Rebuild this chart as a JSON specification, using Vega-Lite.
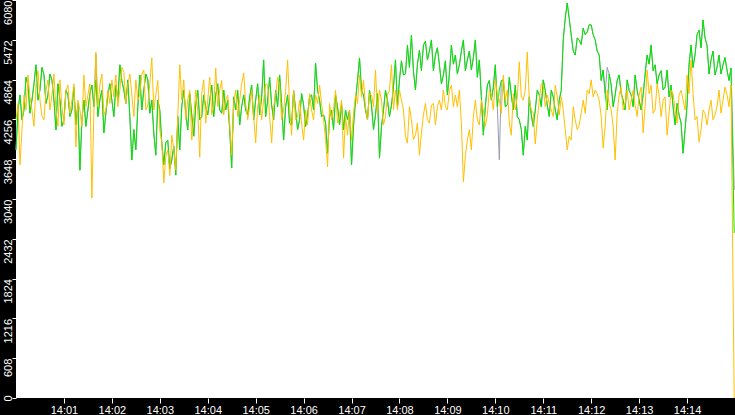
{
  "$schema": "https://vega.github.io/schema/vega-lite/v6.json",
  "width": 719,
  "height": 398,
  "autosize": "none",
  "padding": {"left": 16, "top": 0, "right": 0, "bottom": 17},
  "background": "#000000",
  "config": {
    "view": {"fill": "#ffffff", "stroke": null},
    "axis": {
      "domain": false,
      "grid": false,
      "tickColor": "#ffffff",
      "labelColor": "#ffffff",
      "labelFont": "Liberation Sans",
      "labelFontSize": 11,
      "labelOverlap": false,
      "labelFlush": false,
      "labelBound": false,
      "title": null
    }
  },
  "data": {
    "values": [
      {"s": 0, "g": 3790, "o": 4250, "p": 3790},
      {"s": 5, "g": 4630, "o": 3560, "p": 4630},
      {"s": 10, "g": 4400, "o": 4630, "p": 4400},
      {"s": 15, "g": 4780, "o": 4935, "p": 4780},
      {"s": 20, "g": 4550, "o": 4400, "p": 4550},
      {"s": 25, "g": 5090, "o": 4780, "p": 5090},
      {"s": 30, "g": 4705, "o": 4550, "p": 4705},
      {"s": 35, "g": 4935, "o": 4250, "p": 4935},
      {"s": 40, "g": 4630, "o": 4860, "p": 4630},
      {"s": 45, "g": 4860, "o": 4630, "p": 4860},
      {"s": 50, "g": 4095, "o": 4400, "p": 4095},
      {"s": 55, "g": 4550, "o": 4860, "p": 4550},
      {"s": 60, "g": 4250, "o": 4170, "p": 4250},
      {"s": 65, "g": 4630, "o": 4780, "p": 4630},
      {"s": 70, "g": 4400, "o": 4550, "p": 4400},
      {"s": 75, "g": 4170, "o": 3835, "p": 4170},
      {"s": 80, "g": 3480, "o": 4400, "p": 3480},
      {"s": 85, "g": 4550, "o": 4935, "p": 4550},
      {"s": 90, "g": 4400, "o": 4630, "p": 4400},
      {"s": 95, "g": 4780, "o": 3055, "p": 4780},
      {"s": 100, "g": 4860, "o": 5285, "p": 5250},
      {"s": 105, "g": 4550, "o": 4780, "p": 4550},
      {"s": 110, "g": 4050, "o": 4325, "p": 4050},
      {"s": 115, "g": 4630, "o": 4705, "p": 4630},
      {"s": 120, "g": 4550, "o": 4860, "p": 4550},
      {"s": 125, "g": 4780, "o": 4935, "p": 4780},
      {"s": 130, "g": 5090, "o": 4705, "p": 5090},
      {"s": 135, "g": 4705, "o": 4980, "p": 4705},
      {"s": 140, "g": 4860, "o": 4780, "p": 4860},
      {"s": 145, "g": 3635, "o": 4630, "p": 3635},
      {"s": 150, "g": 3790, "o": 4860, "p": 3790},
      {"s": 155, "g": 4935, "o": 4630, "p": 4935},
      {"s": 160, "g": 4705, "o": 5010, "p": 4705},
      {"s": 165, "g": 4860, "o": 4475, "p": 4860},
      {"s": 170, "g": 4550, "o": 5195, "p": 4550},
      {"s": 175, "g": 3710, "o": 4630, "p": 3710},
      {"s": 180, "g": 4400, "o": 4095, "p": 4400},
      {"s": 185, "g": 3560, "o": 3285, "p": 3560},
      {"s": 190, "g": 3940, "o": 3790, "p": 3940},
      {"s": 195, "g": 3635, "o": 4015, "p": 3635},
      {"s": 200, "g": 3405, "o": 3480, "p": 3405},
      {"s": 205, "g": 3790, "o": 5090, "p": 3790},
      {"s": 210, "g": 4705, "o": 4860, "p": 4705},
      {"s": 215, "g": 4095, "o": 4550, "p": 4095},
      {"s": 220, "g": 4325, "o": 3940, "p": 4325},
      {"s": 225, "g": 4475, "o": 4705, "p": 4475},
      {"s": 230, "g": 4250, "o": 3680, "p": 4250},
      {"s": 235, "g": 4630, "o": 4860, "p": 4630},
      {"s": 240, "g": 4325, "o": 4550, "p": 4325},
      {"s": 245, "g": 4780, "o": 4325, "p": 4780},
      {"s": 250, "g": 4630, "o": 5040, "p": 4630},
      {"s": 255, "g": 4400, "o": 4705, "p": 4400},
      {"s": 260, "g": 4705, "o": 4325, "p": 4705},
      {"s": 265, "g": 4550, "o": 4630, "p": 4550},
      {"s": 270, "g": 3515, "o": 3710, "p": 3515},
      {"s": 275, "g": 4400, "o": 4705, "p": 4400},
      {"s": 280, "g": 4170, "o": 4550, "p": 4170},
      {"s": 285, "g": 4630, "o": 4965, "p": 4630},
      {"s": 290, "g": 4325, "o": 4250, "p": 4325},
      {"s": 295, "g": 4780, "o": 4705, "p": 4780},
      {"s": 300, "g": 4550, "o": 3895, "p": 4550},
      {"s": 305, "g": 4325, "o": 4630, "p": 4325},
      {"s": 310, "g": 5165, "o": 4550, "p": 5165},
      {"s": 315, "g": 4550, "o": 4780, "p": 4550},
      {"s": 320, "g": 4475, "o": 3895, "p": 4475},
      {"s": 325, "g": 4705, "o": 4630, "p": 4705},
      {"s": 330, "g": 4935, "o": 4780, "p": 4935},
      {"s": 335, "g": 3940, "o": 4400, "p": 3940},
      {"s": 340, "g": 4630, "o": 5165, "p": 4630},
      {"s": 345, "g": 4170, "o": 4015, "p": 4170},
      {"s": 350, "g": 4400, "o": 4250, "p": 4400},
      {"s": 355, "g": 4250, "o": 4550, "p": 4250},
      {"s": 360, "g": 4475, "o": 3940, "p": 4475},
      {"s": 365, "g": 4325, "o": 4170, "p": 4325},
      {"s": 370, "g": 4630, "o": 4400, "p": 4630},
      {"s": 375, "g": 5115, "o": 4630, "p": 5115},
      {"s": 380, "g": 4550, "o": 4780, "p": 4550},
      {"s": 385, "g": 4325, "o": 4250, "p": 4325},
      {"s": 390, "g": 3740, "o": 3530, "p": 3740},
      {"s": 395, "g": 4400, "o": 4250, "p": 4400},
      {"s": 400, "g": 4630, "o": 4705, "p": 4630},
      {"s": 405, "g": 4170, "o": 4325, "p": 4170},
      {"s": 410, "g": 4095, "o": 3665, "p": 4095},
      {"s": 415, "g": 4250, "o": 4015, "p": 4250},
      {"s": 420, "g": 3560, "o": 3940, "p": 3560},
      {"s": 425, "g": 4550, "o": 4630, "p": 4550},
      {"s": 430, "g": 5195, "o": 4935, "p": 5195},
      {"s": 435, "g": 4630, "o": 4860, "p": 4630},
      {"s": 440, "g": 4250, "o": 4250, "p": 4250},
      {"s": 445, "g": 4475, "o": 4630, "p": 4475},
      {"s": 450, "g": 4325, "o": 5010, "p": 4325},
      {"s": 455, "g": 3665, "o": 4705, "p": 3665},
      {"s": 460, "g": 4400, "o": 4170, "p": 4400},
      {"s": 465, "g": 4550, "o": 4630, "p": 4550},
      {"s": 470, "g": 4475, "o": 5090, "p": 4475},
      {"s": 475, "g": 5165, "o": 4705, "p": 5165},
      {"s": 480, "g": 4860, "o": 4705, "p": 4860},
      {"s": 485, "g": 4935, "o": 4400, "p": 4935},
      {"s": 490, "g": 5390, "o": 3895, "p": 5390},
      {"s": 495, "g": 5545, "o": 4250, "p": 5545},
      {"s": 500, "g": 4705, "o": 4015, "p": 4705},
      {"s": 505, "g": 5315, "o": 3710, "p": 5315},
      {"s": 510, "g": 5390, "o": 4325, "p": 5390},
      {"s": 515, "g": 5165, "o": 4250, "p": 5165},
      {"s": 520, "g": 5470, "o": 4475, "p": 5470},
      {"s": 525, "g": 5240, "o": 4170, "p": 5240},
      {"s": 530, "g": 5090, "o": 4550, "p": 5090},
      {"s": 535, "g": 4935, "o": 4705, "p": 4935},
      {"s": 540, "g": 4630, "o": 4400, "p": 4630},
      {"s": 545, "g": 5390, "o": 4780, "p": 5390},
      {"s": 550, "g": 5240, "o": 4630, "p": 5240},
      {"s": 555, "g": 5090, "o": 4705, "p": 5090},
      {"s": 560, "g": 5470, "o": 3300, "p": 5470},
      {"s": 565, "g": 5165, "o": 3940, "p": 5165},
      {"s": 570, "g": 5010, "o": 3790, "p": 5010},
      {"s": 575, "g": 5470, "o": 4550, "p": 5470},
      {"s": 580, "g": 5165, "o": 4170, "p": 5165},
      {"s": 585, "g": 4015, "o": 4400, "p": 4015},
      {"s": 590, "g": 4780, "o": 4325, "p": 4780},
      {"s": 595, "g": 4550, "o": 4630, "p": 4550},
      {"s": 600, "g": 5090, "o": 4860, "p": 5090},
      {"s": 605, "g": 4705, "o": 4550, "p": 3640},
      {"s": 610, "g": 4860, "o": 4935, "p": 4860},
      {"s": 615, "g": 4475, "o": 4705, "p": 4475},
      {"s": 620, "g": 4630, "o": 4015, "p": 4630},
      {"s": 625, "g": 4780, "o": 4400, "p": 4780},
      {"s": 630, "g": 4250, "o": 5135, "p": 4250},
      {"s": 635, "g": 3710, "o": 4550, "p": 3710},
      {"s": 640, "g": 3940, "o": 5285, "p": 3940},
      {"s": 645, "g": 4325, "o": 4400, "p": 4325},
      {"s": 650, "g": 4400, "o": 3880, "p": 4400},
      {"s": 655, "g": 4630, "o": 4550, "p": 4630},
      {"s": 660, "g": 4860, "o": 4780, "p": 4860},
      {"s": 665, "g": 4475, "o": 4630, "p": 4475},
      {"s": 670, "g": 4705, "o": 4400, "p": 4705},
      {"s": 675, "g": 4400, "o": 4780, "p": 4400},
      {"s": 680, "g": 4550, "o": 4325, "p": 4550},
      {"s": 685, "g": 5470, "o": 4400, "p": 5470},
      {"s": 690, "g": 6035, "o": 3790, "p": 6035},
      {"s": 695, "g": 5545, "o": 3940, "p": 5545},
      {"s": 700, "g": 5240, "o": 4250, "p": 5240},
      {"s": 705, "g": 5470, "o": 4170, "p": 5470},
      {"s": 710, "g": 5650, "o": 4550, "p": 5650},
      {"s": 715, "g": 5590, "o": 4705, "p": 5590},
      {"s": 720, "g": 5700, "o": 4860, "p": 5700},
      {"s": 725, "g": 5470, "o": 4705, "p": 5470},
      {"s": 730, "g": 5240, "o": 4550, "p": 5240},
      {"s": 735, "g": 5010, "o": 3820, "p": 5010},
      {"s": 740, "g": 4400, "o": 4705, "p": 5050},
      {"s": 745, "g": 4780, "o": 4400, "p": 4780},
      {"s": 750, "g": 4630, "o": 3635, "p": 4630},
      {"s": 755, "g": 4935, "o": 4630, "p": 4935},
      {"s": 760, "g": 4550, "o": 4400, "p": 4550},
      {"s": 765, "g": 4860, "o": 4705, "p": 4860},
      {"s": 770, "g": 4630, "o": 4550, "p": 4630},
      {"s": 775, "g": 4935, "o": 4475, "p": 4935},
      {"s": 780, "g": 4550, "o": 4630, "p": 4550},
      {"s": 785, "g": 4630, "o": 4050, "p": 4630},
      {"s": 790, "g": 5240, "o": 5010, "p": 5240},
      {"s": 795, "g": 5390, "o": 4780, "p": 5390},
      {"s": 800, "g": 5090, "o": 4400, "p": 5090},
      {"s": 805, "g": 4935, "o": 4630, "p": 4935},
      {"s": 810, "g": 4705, "o": 4550, "p": 4705},
      {"s": 815, "g": 5010, "o": 4015, "p": 5010},
      {"s": 820, "g": 4780, "o": 4705, "p": 4780},
      {"s": 825, "g": 4170, "o": 4400, "p": 4170},
      {"s": 830, "g": 4325, "o": 4630, "p": 4325},
      {"s": 835, "g": 3740, "o": 4550, "p": 3740},
      {"s": 840, "g": 4475, "o": 4935, "p": 4475},
      {"s": 845, "g": 5390, "o": 5165, "p": 5390},
      {"s": 850, "g": 5240, "o": 4250, "p": 5240},
      {"s": 855, "g": 5620, "o": 3910, "p": 5620},
      {"s": 860, "g": 5775, "o": 4400, "p": 5775},
      {"s": 865, "g": 5390, "o": 4170, "p": 5390},
      {"s": 870, "g": 5165, "o": 4550, "p": 5165},
      {"s": 875, "g": 4935, "o": 4325, "p": 4935},
      {"s": 880, "g": 5240, "o": 4705, "p": 5240},
      {"s": 885, "g": 5090, "o": 4550, "p": 5090},
      {"s": 890, "g": 5010, "o": 4630, "p": 5010},
      {"s": 895, "g": 5040, "o": 4780, "p": 5040},
      {"s": 899, "g": 2520, "o": 0, "p": 3180},
      {"s": 2.5, "g": 4400, "o": 4500, "p": 4400},
      {"s": 7.5, "g": 4250, "o": 4100, "p": 4250},
      {"s": 12.5, "g": 4900, "o": 4400, "p": 4900},
      {"s": 17.5, "g": 4350, "o": 4600, "p": 4350},
      {"s": 22.5, "g": 4800, "o": 4150, "p": 4800},
      {"s": 27.5, "g": 4550, "o": 5000, "p": 4550},
      {"s": 32.5, "g": 5050, "o": 4300, "p": 5050},
      {"s": 37.5, "g": 4500, "o": 4700, "p": 4500},
      {"s": 42.5, "g": 4950, "o": 4400, "p": 4950},
      {"s": 47.5, "g": 4550, "o": 4950, "p": 4550},
      {"s": 52.5, "g": 4800, "o": 4150, "p": 4800},
      {"s": 57.5, "g": 4150, "o": 4450, "p": 4150},
      {"s": 62.5, "g": 4700, "o": 4700, "p": 4700},
      {"s": 67.5, "g": 4300, "o": 4350, "p": 4300},
      {"s": 72.5, "g": 4750, "o": 4800, "p": 4750},
      {"s": 77.5, "g": 4500, "o": 4550, "p": 4500},
      {"s": 82.5, "g": 4250, "o": 4150, "p": 4250},
      {"s": 87.5, "g": 4150, "o": 4450, "p": 4150},
      {"s": 92.5, "g": 4650, "o": 4800, "p": 4650},
      {"s": 97.5, "g": 4450, "o": 4400, "p": 4450},
      {"s": 102.5, "g": 4300, "o": 4450, "p": 4300},
      {"s": 107.5, "g": 4700, "o": 4950, "p": 4700},
      {"s": 112.5, "g": 4350, "o": 4400, "p": 4350},
      {"s": 117.5, "g": 4800, "o": 4500, "p": 4800},
      {"s": 122.5, "g": 4300, "o": 4600, "p": 4300},
      {"s": 127.5, "g": 4550, "o": 4450, "p": 4550},
      {"s": 132.5, "g": 4850, "o": 5050, "p": 4850},
      {"s": 137.5, "g": 4500, "o": 4500, "p": 4500},
      {"s": 142.5, "g": 4300, "o": 4950, "p": 4300},
      {"s": 147.5, "g": 4100, "o": 4300, "p": 4100},
      {"s": 152.5, "g": 4450, "o": 4550, "p": 4450},
      {"s": 157.5, "g": 4400, "o": 4950, "p": 4400},
      {"s": 162.5, "g": 4950, "o": 4400, "p": 4950},
      {"s": 167.5, "g": 4350, "o": 4800, "p": 4350},
      {"s": 172.5, "g": 4050, "o": 4400, "p": 4050},
      {"s": 177.5, "g": 4550, "o": 4850, "p": 4550},
      {"s": 182.5, "g": 3900, "o": 3900, "p": 3900},
      {"s": 187.5, "g": 3900, "o": 3700, "p": 3900},
      {"s": 192.5, "g": 3500, "o": 3400, "p": 3500},
      {"s": 197.5, "g": 3850, "o": 3800, "p": 3850},
      {"s": 202.5, "g": 4300, "o": 4300, "p": 4300},
      {"s": 207.5, "g": 4450, "o": 4550, "p": 4450},
      {"s": 212.5, "g": 4350, "o": 4250, "p": 4350},
      {"s": 217.5, "g": 4650, "o": 4700, "p": 4650},
      {"s": 222.5, "g": 4000, "o": 4300, "p": 4000},
      {"s": 227.5, "g": 4700, "o": 4400, "p": 4700},
      {"s": 232.5, "g": 4300, "o": 4650, "p": 4300},
      {"s": 237.5, "g": 4450, "o": 4200, "p": 4450},
      {"s": 242.5, "g": 4550, "o": 4900, "p": 4550},
      {"s": 247.5, "g": 4300, "o": 4450, "p": 4300},
      {"s": 252.5, "g": 4800, "o": 4450, "p": 4800},
      {"s": 257.5, "g": 4350, "o": 4850, "p": 4350},
      {"s": 262.5, "g": 4400, "o": 4550, "p": 4400},
      {"s": 267.5, "g": 4100, "o": 4200, "p": 4100},
      {"s": 272.5, "g": 4600, "o": 4500, "p": 4600},
      {"s": 277.5, "g": 4700, "o": 4300, "p": 4700},
      {"s": 282.5, "g": 4450, "o": 4800, "p": 4450},
      {"s": 287.5, "g": 4400, "o": 4500, "p": 4400},
      {"s": 292.5, "g": 4600, "o": 4450, "p": 4600},
      {"s": 297.5, "g": 4250, "o": 4300, "p": 4250},
      {"s": 302.5, "g": 4800, "o": 4450, "p": 4800},
      {"s": 307.5, "g": 4600, "o": 4250, "p": 4600},
      {"s": 312.5, "g": 4300, "o": 4800, "p": 4300},
      {"s": 317.5, "g": 4900, "o": 4300, "p": 4900},
      {"s": 322.5, "g": 4250, "o": 4450, "p": 4250},
      {"s": 327.5, "g": 4450, "o": 4900, "p": 4450},
      {"s": 332.5, "g": 4500, "o": 4250, "p": 4500},
      {"s": 337.5, "g": 4450, "o": 4700, "p": 4450},
      {"s": 342.5, "g": 4200, "o": 4450, "p": 4200},
      {"s": 347.5, "g": 4700, "o": 4700, "p": 4700},
      {"s": 352.5, "g": 4100, "o": 4300, "p": 4100},
      {"s": 357.5, "g": 4650, "o": 4200, "p": 4650},
      {"s": 362.5, "g": 4150, "o": 4400, "p": 4150},
      {"s": 367.5, "g": 4600, "o": 4650, "p": 4600},
      {"s": 372.5, "g": 4400, "o": 4250, "p": 4400},
      {"s": 377.5, "g": 4700, "o": 4500, "p": 4700},
      {"s": 382.5, "g": 4300, "o": 4500, "p": 4300},
      {"s": 387.5, "g": 4200, "o": 3950, "p": 4200},
      {"s": 392.5, "g": 4300, "o": 4500, "p": 4300},
      {"s": 397.5, "g": 4100, "o": 4400, "p": 4100},
      {"s": 402.5, "g": 4450, "o": 4200, "p": 4450},
      {"s": 407.5, "g": 4500, "o": 4550, "p": 4500},
      {"s": 412.5, "g": 4400, "o": 4300, "p": 4400},
      {"s": 417.5, "g": 4400, "o": 4400, "p": 4400},
      {"s": 422.5, "g": 4150, "o": 4350, "p": 4150},
      {"s": 427.5, "g": 4850, "o": 4500, "p": 4850},
      {"s": 432.5, "g": 4700, "o": 4600, "p": 4700},
      {"s": 437.5, "g": 4400, "o": 4450, "p": 4400},
      {"s": 442.5, "g": 4700, "o": 4650, "p": 4700},
      {"s": 447.5, "g": 4100, "o": 4450, "p": 4100},
      {"s": 452.5, "g": 4650, "o": 4350, "p": 4650},
      {"s": 457.5, "g": 4150, "o": 4550, "p": 4150},
      {"s": 462.5, "g": 4700, "o": 4300, "p": 4700},
      {"s": 467.5, "g": 4300, "o": 4700, "p": 4300},
      {"s": 472.5, "g": 4750, "o": 4400, "p": 4750},
      {"s": 477.5, "g": 4450, "o": 4400, "p": 4450},
      {"s": 482.5, "g": 5150, "o": 4550, "p": 5150},
      {"s": 487.5, "g": 4950, "o": 4000, "p": 4950},
      {"s": 492.5, "g": 5050, "o": 4450, "p": 5050},
      {"s": 497.5, "g": 5000, "o": 3950, "p": 5000},
      {"s": 502.5, "g": 5100, "o": 4200, "p": 5100},
      {"s": 507.5, "g": 5000, "o": 4050, "p": 5000},
      {"s": 512.5, "g": 5450, "o": 4500, "p": 5450},
      {"s": 517.5, "g": 5300, "o": 4200, "p": 5300},
      {"s": 522.5, "g": 5000, "o": 4500, "p": 5000},
      {"s": 527.5, "g": 5350, "o": 4450, "p": 5350},
      {"s": 532.5, "g": 4800, "o": 4400, "p": 4800},
      {"s": 537.5, "g": 5150, "o": 4450, "p": 5150},
      {"s": 542.5, "g": 4950, "o": 4700, "p": 4950},
      {"s": 547.5, "g": 5100, "o": 4450, "p": 5100},
      {"s": 552.5, "g": 4950, "o": 4450, "p": 4950},
      {"s": 557.5, "g": 5300, "o": 4200, "p": 5300},
      {"s": 562.5, "g": 5000, "o": 3700, "p": 5000},
      {"s": 567.5, "g": 5300, "o": 4100, "p": 5300},
      {"s": 572.5, "g": 5200, "o": 4300, "p": 5200},
      {"s": 577.5, "g": 4900, "o": 4250, "p": 4900},
      {"s": 582.5, "g": 4600, "o": 4550, "p": 4600},
      {"s": 587.5, "g": 4450, "o": 4150, "p": 4450},
      {"s": 592.5, "g": 4850, "o": 4700, "p": 4850},
      {"s": 597.5, "g": 4750, "o": 4400, "p": 4750},
      {"s": 602.5, "g": 4450, "o": 4650, "p": 4450},
      {"s": 607.5, "g": 4850, "o": 4350, "p": 4850},
      {"s": 612.5, "g": 4450, "o": 4550, "p": 4450},
      {"s": 617.5, "g": 4900, "o": 4200, "p": 4900},
      {"s": 622.5, "g": 4400, "o": 4650, "p": 4400},
      {"s": 627.5, "g": 4300, "o": 4600, "p": 4300},
      {"s": 632.5, "g": 4100, "o": 4600, "p": 4100},
      {"s": 637.5, "g": 4150, "o": 4700, "p": 4150},
      {"s": 642.5, "g": 4600, "o": 4550, "p": 4600},
      {"s": 647.5, "g": 4150, "o": 4350, "p": 4150},
      {"s": 652.5, "g": 4700, "o": 4250, "p": 4700},
      {"s": 657.5, "g": 4450, "o": 4800, "p": 4450},
      {"s": 662.5, "g": 4700, "o": 4450, "p": 4700},
      {"s": 667.5, "g": 4300, "o": 4500, "p": 4300},
      {"s": 672.5, "g": 4600, "o": 4300, "p": 4600},
      {"s": 677.5, "g": 4250, "o": 4600, "p": 4250},
      {"s": 682.5, "g": 4700, "o": 4600, "p": 4700},
      {"s": 687.5, "g": 5800, "o": 4100, "p": 5800},
      {"s": 692.5, "g": 5800, "o": 4000, "p": 5800},
      {"s": 697.5, "g": 5300, "o": 4450, "p": 5300},
      {"s": 702.5, "g": 5500, "o": 4100, "p": 5500},
      {"s": 707.5, "g": 5400, "o": 4350, "p": 5400},
      {"s": 712.5, "g": 5550, "o": 4350, "p": 5550},
      {"s": 717.5, "g": 5700, "o": 4650, "p": 5700},
      {"s": 722.5, "g": 5550, "o": 4600, "p": 5550},
      {"s": 727.5, "g": 5300, "o": 4650, "p": 5300},
      {"s": 732.5, "g": 4850, "o": 4300, "p": 4850},
      {"s": 737.5, "g": 4650, "o": 4150, "p": 4650},
      {"s": 742.5, "g": 4950, "o": 4500, "p": 4950},
      {"s": 747.5, "g": 4450, "o": 4150, "p": 4450},
      {"s": 752.5, "g": 4850, "o": 4350, "p": 4850},
      {"s": 757.5, "g": 4650, "o": 4750, "p": 4650},
      {"s": 762.5, "g": 4400, "o": 4500, "p": 4400},
      {"s": 767.5, "g": 4700, "o": 4400, "p": 4700},
      {"s": 772.5, "g": 4450, "o": 4700, "p": 4450},
      {"s": 777.5, "g": 4700, "o": 4300, "p": 4700},
      {"s": 782.5, "g": 4400, "o": 4750, "p": 4400},
      {"s": 787.5, "g": 4950, "o": 4450, "p": 4950},
      {"s": 792.5, "g": 5100, "o": 4650, "p": 5100},
      {"s": 797.5, "g": 5000, "o": 4350, "p": 5000},
      {"s": 802.5, "g": 4800, "o": 4800, "p": 4800},
      {"s": 807.5, "g": 5000, "o": 4300, "p": 5000},
      {"s": 812.5, "g": 4750, "o": 4600, "p": 4750},
      {"s": 817.5, "g": 4600, "o": 4350, "p": 4600},
      {"s": 822.5, "g": 4450, "o": 4650, "p": 4450},
      {"s": 827.5, "g": 4500, "o": 4200, "p": 4500},
      {"s": 832.5, "g": 4200, "o": 4700, "p": 4200},
      {"s": 837.5, "g": 4100, "o": 4400, "p": 4100},
      {"s": 842.5, "g": 5100, "o": 4650, "p": 5100},
      {"s": 847.5, "g": 5050, "o": 4650, "p": 5050},
      {"s": 852.5, "g": 5550, "o": 4300, "p": 5550},
      {"s": 857.5, "g": 5350, "o": 4100, "p": 5350},
      {"s": 862.5, "g": 5500, "o": 4350, "p": 5500},
      {"s": 867.5, "g": 4950, "o": 4400, "p": 4950},
      {"s": 872.5, "g": 5300, "o": 4250, "p": 5300},
      {"s": 877.5, "g": 5050, "o": 4450, "p": 5050},
      {"s": 882.5, "g": 4950, "o": 4350, "p": 4950},
      {"s": 887.5, "g": 5200, "o": 4750, "p": 5200},
      {"s": 892.5, "g": 4850, "o": 4450, "p": 4850}
    ]
  },
  "encoding": {
    "x": {
      "field": "s",
      "type": "quantitative",
      "scale": {"domain": [0, 900], "nice": false, "zero": false},
      "axis": {
        "values": [60, 120, 180, 240, 300, 360, 420, 480, 540, 600, 660, 720, 780, 840],
        "tickCount": 30,
        "labelExpr": "'14:' + (datum.value < 600 ? '0' : '') + datum.value / 60",
        "tickSize": 5,
        "labelPadding": 1,
        "labelBaseline": "top"
      }
    }
  },
  "layer": [
    {
      "mark": {"type": "line", "color": "#9a9aae", "strokeWidth": 1},
      "encoding": {
        "y": {
          "field": "p",
          "type": "quantitative",
          "scale": {"domain": [0, 6080], "nice": false},
          "axis": {
            "values": [0, 608, 1216, 1824, 2432, 3040, 3648, 4256, 4864, 5472, 6080],
            "tickCount": 30,
            "format": "d",
            "labelOverlap": false,
            "labelAngle": -90,
            "labelAlign": {"expr": "datum.value == 0 ? 'center' : 'right'"},
            "labelBaseline": "alphabetic",
            "tickSize": 4,
            "labelPadding": 1
          }
        }
      }
    },
    {
      "mark": {"type": "line", "color": "#00e600", "strokeWidth": 1},
      "encoding": {"y": {"field": "g", "type": "quantitative"}}
    },
    {
      "mark": {"type": "line", "color": "#ffc000", "strokeWidth": 1},
      "encoding": {"y": {"field": "o", "type": "quantitative"}}
    }
  ]
}
